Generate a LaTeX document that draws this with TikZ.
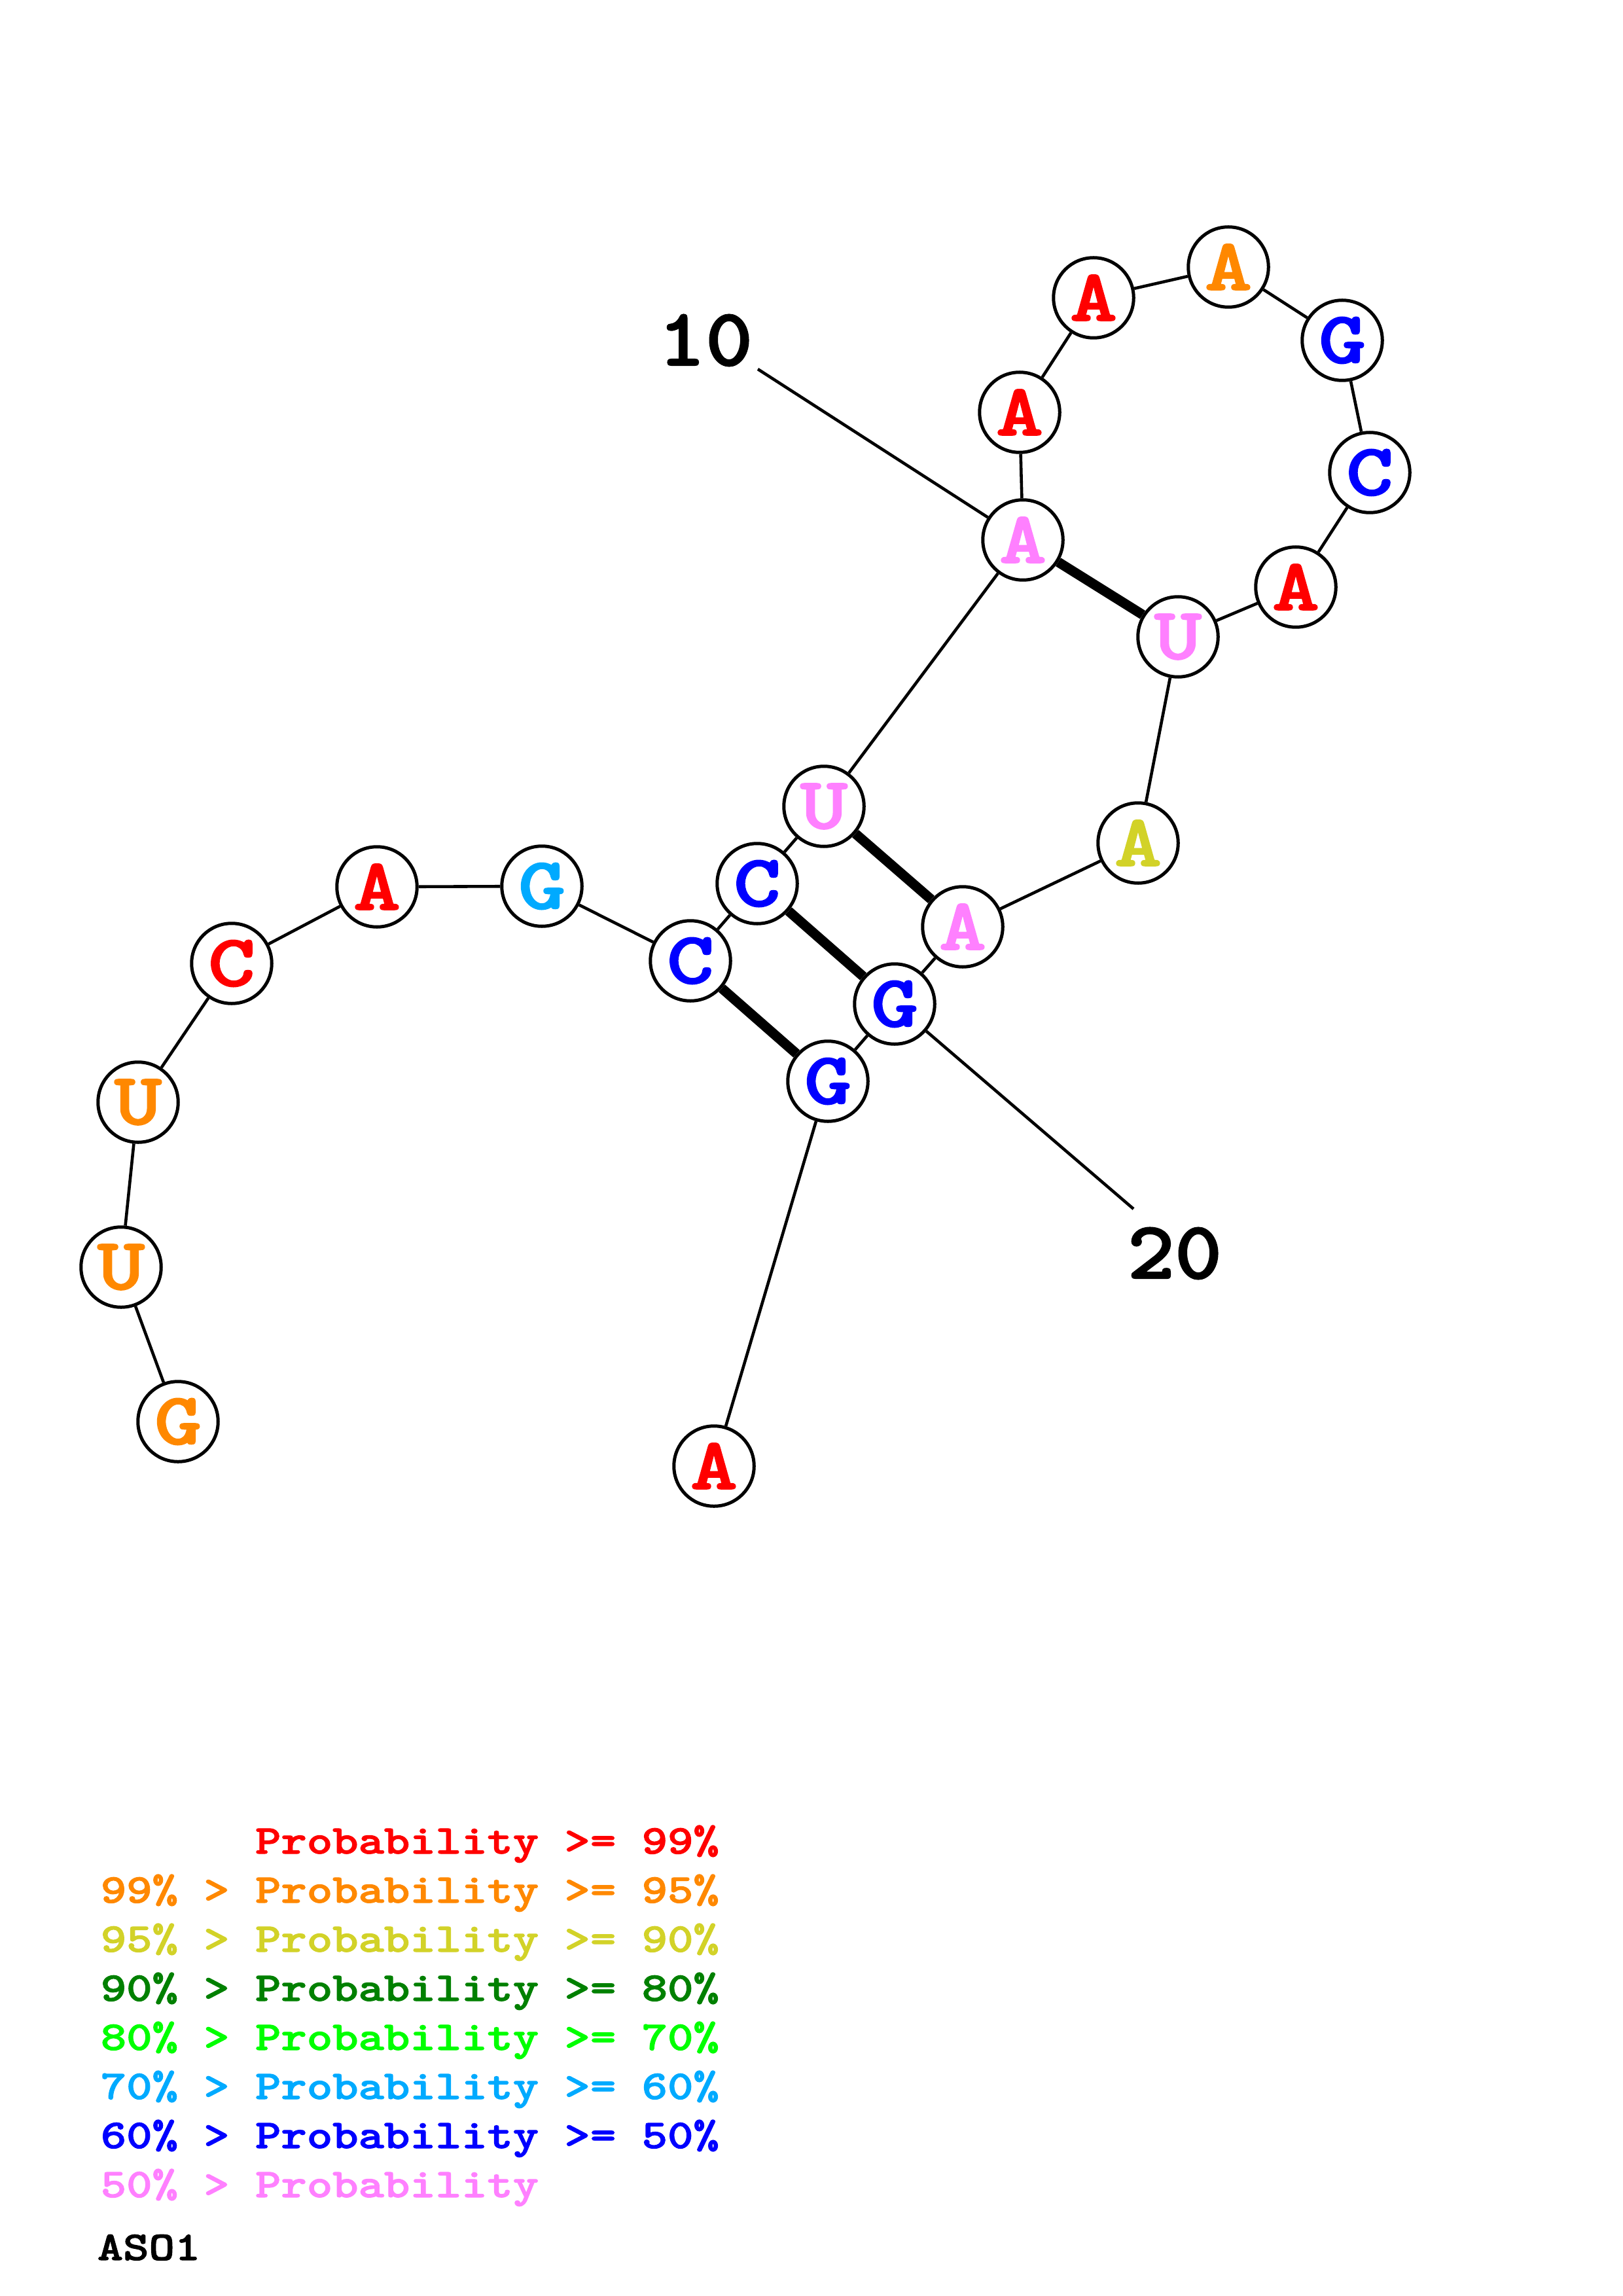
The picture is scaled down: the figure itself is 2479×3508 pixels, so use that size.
\documentclass[tikz,border=0pt]{standalone}
\usepackage{graphicx}
\usepackage{fontspec}
\newfontfamily\cmono{lmmonolt10-bold}[Extension=.otf, FakeBold=1.6]
\definecolor{cred}{RGB}{255,0,0}
\definecolor{corange}{RGB}{255,136,0}
\definecolor{cyellow}{RGB}{210,210,40}
\definecolor{cdkgreen}{RGB}{0,128,0}
\definecolor{cgreen}{RGB}{0,255,0}
\definecolor{csky}{RGB}{0,170,255}
\definecolor{cblue}{RGB}{0,0,255}
\definecolor{cpink}{RGB}{255,128,255}
\newcommand{\ntletter}[2]{\textcolor{#1}{\raisebox{-2.6pt}{\scalebox{1.22}[1]{\fontsize{27}{27}\cmono #2}}}}
\newcommand{\legtext}[1]{\scalebox{1.2}[1]{\fontsize{15}{15}\cmono #1}}
\newcommand{\numtext}[1]{\scalebox{1.1}[1]{\fontsize{30}{30}\cmono #1}}
\tikzset{
  nt/.style={circle, draw=black, line width=1.2pt, fill=white, minimum size=29.4pt, inner sep=0pt},
  bb/.style={line width=1.1pt, black},
  pairline/.style={line width=3.6pt, black},
  numlab/.style={inner sep=0pt},
  legline/.style={anchor=base west, inner sep=0pt},
}
\begin{document}
\begin{tikzpicture}[x=0.24pt, y=-0.24pt]
\fill[white] (0,0) rectangle (2479,3508);
\useasboundingbox (0,0) rectangle (2479,3508);

\coordinate (t10) at (1158,564);
\coordinate (t20) at (1732,1847);

\node[nt] (n1) at (272,2172) {\ntletter{corange}{G}};
\node[nt] (n2) at (185,1936) {\ntletter{corange}{U}};
\node[nt] (n3) at (211,1684) {\ntletter{corange}{U}};
\node[nt] (n4) at (354,1472) {\ntletter{cred}{C}};
\node[nt] (n5) at (576,1355) {\ntletter{cred}{A}};
\node[nt] (n6) at (828,1354) {\ntletter{csky}{G}};
\node[nt] (n7) at (1055,1468) {\ntletter{cblue}{C}};
\node[nt] (n8) at (1157,1350) {\ntletter{cblue}{C}};
\node[nt] (n9) at (1259,1232) {\ntletter{cpink}{U}};
\node[nt] (n10) at (1563,825) {\ntletter{cpink}{A}};
\node[nt] (n11) at (1558,630) {\ntletter{cred}{A}};
\node[nt] (n12) at (1671,455) {\ntletter{cred}{A}};
\node[nt] (n13) at (1877,408) {\ntletter{corange}{A}};
\node[nt] (n14) at (2051,520) {\ntletter{cblue}{G}};
\node[nt] (n15) at (2093,722) {\ntletter{cblue}{C}};
\node[nt] (n16) at (1980,897) {\ntletter{cred}{A}};
\node[nt] (n17) at (1800,973) {\ntletter{cpink}{U}};
\node[nt] (n18) at (1739,1288) {\ntletter{cyellow}{A}};
\node[nt] (n19) at (1471,1416) {\ntletter{cpink}{A}};
\node[nt] (n20) at (1367,1534) {\ntletter{cblue}{G}};
\node[nt] (n21) at (1265,1652) {\ntletter{cblue}{G}};
\node[nt] (n22) at (1091,2240) {\ntletter{cred}{A}};

% backbone
\draw[bb] (n1) -- (n2);
\draw[bb] (n2) -- (n3);
\draw[bb] (n3) -- (n4);
\draw[bb] (n4) -- (n5);
\draw[bb] (n5) -- (n6);
\draw[bb] (n6) -- (n7);
\draw[bb] (n7) -- (n8);
\draw[bb] (n8) -- (n9);
\draw[bb] (n9) -- (n10);
\draw[bb] (n10) -- (n11);
\draw[bb] (n11) -- (n12);
\draw[bb] (n12) -- (n13);
\draw[bb] (n13) -- (n14);
\draw[bb] (n14) -- (n15);
\draw[bb] (n15) -- (n16);
\draw[bb] (n16) -- (n17);
\draw[bb] (n17) -- (n18);
\draw[bb] (n18) -- (n19);
\draw[bb] (n19) -- (n20);
\draw[bb] (n20) -- (n21);
\draw[bb] (n21) -- (n22);

% base pairs
\draw[pairline] (n10) -- (n17);
\draw[pairline] (n9) -- (n19);
\draw[pairline] (n8) -- (n20);
\draw[pairline] (n7) -- (n21);

% numbering
\node[numlab] (lab10) at (1078,520) {\numtext{10}};
\node[numlab] (lab20) at (1795,1915) {\numtext{20}};
\draw[bb] (t10) -- (n10);
\draw[bb] (t20) -- (n20);

% legend
\node[legline] (l1) at (153,2832) {\legtext{\textcolor{cred}{\hphantom{99\% > }Probability >= 99\%}}};
\node[legline] (l2) at (153,2907) {\legtext{\textcolor{corange}{99\% > Probability >= 95\%}}};
\node[legline] (l3) at (153,2982) {\legtext{\textcolor{cyellow}{95\% > Probability >= 90\%}}};
\node[legline] (l4) at (153,3057) {\legtext{\textcolor{cdkgreen}{90\% > Probability >= 80\%}}};
\node[legline] (l5) at (153,3132) {\legtext{\textcolor{cgreen}{80\% > Probability >= 70\%}}};
\node[legline] (l6) at (153,3207) {\legtext{\textcolor{csky}{70\% > Probability >= 60\%}}};
\node[legline] (l7) at (153,3282) {\legtext{\textcolor{cblue}{60\% > Probability >= 50\%}}};
\node[legline] (l8) at (153,3357) {\legtext{\textcolor{cpink}{50\% > Probability}}};
\node[legline] (title) at (148,3453) {\legtext{ASO1}};
\end{tikzpicture}
\end{document}
